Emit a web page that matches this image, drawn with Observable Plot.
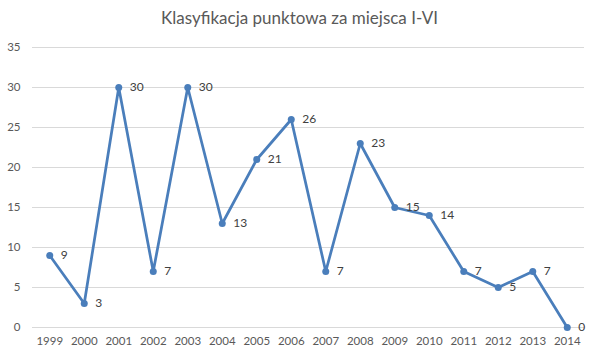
<!DOCTYPE html>
<html>
<head>
<meta charset="utf-8">
<script src="https://cdn.jsdelivr.net/npm/d3@7"></script>
<script src="https://cdn.jsdelivr.net/npm/@observablehq/plot@0.6"></script>
<style>
  body { margin: 0; background: #fff; }
  #title { height: 36px; line-height: 36px; text-align: center; font-family: Lato, "Open Sans", sans-serif; font-size: 17px; color: #595959; }
  #chart svg { display: block; }
</style>
</head>
<body>
<div id="title">Klasyfikacja punktowa za miejsca I-VI</div>
<div id="chart"></div>
<script>
const years = ["1999","2000","2001","2002","2003","2004","2005","2006","2007","2008","2009","2010","2011","2012","2013","2014"];
const points = [9,3,30,7,30,13,21,26,7,23,15,14,7,5,7,0];
const yTicks = [0,5,10,15,20,25,30,35];

const data = years.map((y, i) => ({year: y, value: points[i]}));

const chart = Plot.plot({
  width: 599,
  height: 323,
  marginTop: 11,
  marginBottom: 32,
  marginLeft: 32,
  marginRight: 15,
  style: {fontFamily: "Lato, 'Open Sans', sans-serif", fontSize: "11.5px", color: "#595959", background: "#fff"},
  x: {type: "point", domain: years, padding: 0.5, round: false, label: null},
  y: {domain: [0, 35], ticks: yTicks, label: null},
  marks: [
    Plot.ruleY(yTicks, {stroke: "#d9d9d9", strokeWidth: 1}),
    Plot.axisY({ticks: yTicks, tickSize: 0, tickPadding: 12, label: null, fill: "#595959"}),
    Plot.axisX({tickSize: 0, tickPadding: 9, label: null, fill: "#595959"}),
    Plot.line(data, {x: "year", y: "value", stroke: "#4a7ebb", strokeWidth: 2.75, strokeLinejoin: "round"}),
    Plot.dot(data, {x: "year", y: "value", r: 3.5, fill: "#4a7ebb", stroke: "none"}),
    Plot.text(data, {x: "year", y: "value", text: d => String(d.value), dx: 11, textAnchor: "start", fill: "#404040", fontSize: 12})
  ]
});
document.getElementById("chart").appendChild(chart);
</script>
</body>
</html>
